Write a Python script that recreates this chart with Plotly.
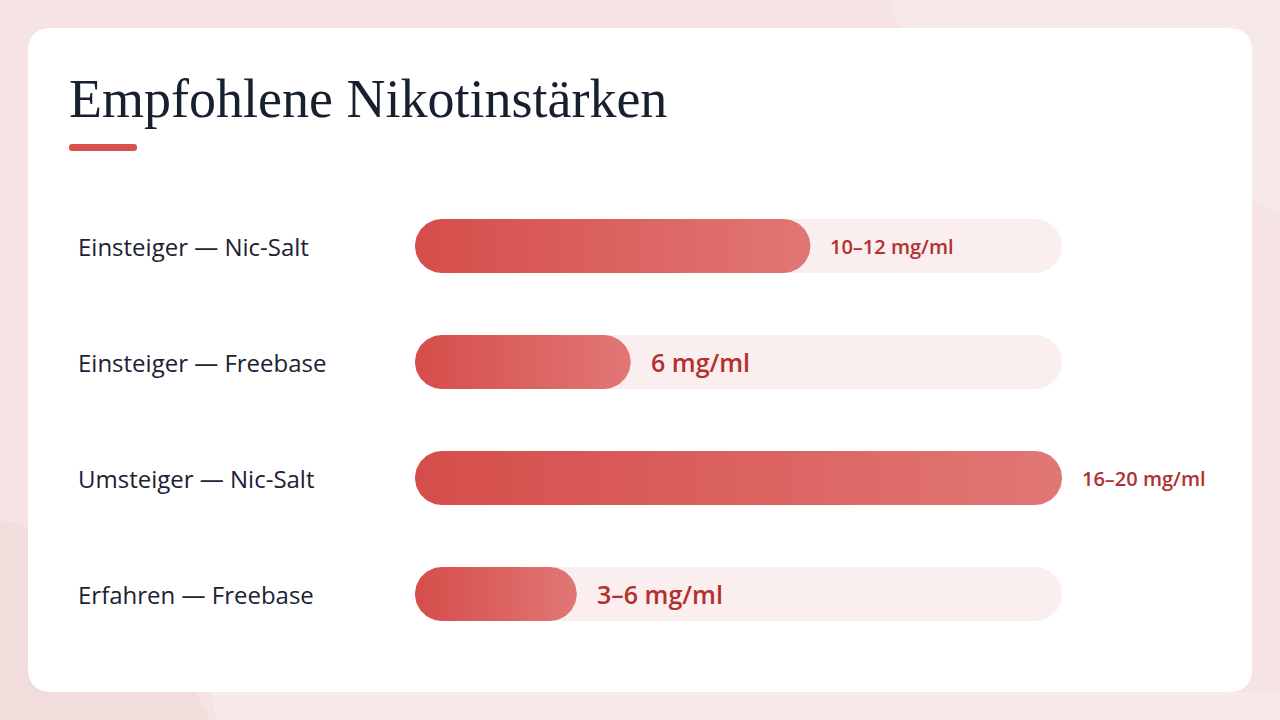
import numpy as np
import plotly.graph_objects as go

# ---- data ----
categories = ["Einsteiger — Nic-Salt", "Einsteiger — Freebase", "Umsteiger — Nic-Salt", "Erfahren — Freebase"]
values = [11, 6, 18, 4.5]
value_labels = ["10–12 mg/ml", "6 mg/ml", "16–20 mg/ml", "3–6 mg/ml"]
value_label_sizes = [20, 25, 20, 25]
max_value = 18
title_text = "Empfohlene Nikotinstärken"

W, H = 1280, 720
X0_PX, X1_PX = 415, 1062
ROW0_PX, ROW_STEP_PX = 246, 116
HALF_H_PX = 27

# axis geometry
x_per_px = max_value / (X1_PX - X0_PX)
y_per_px = 1.0 / ROW_STEP_PX
y_top = -ROW0_PX * y_per_px
y_bot = y_top + H * y_per_px
rx = HALF_H_PX * x_per_px
ry = HALF_H_PX * y_per_px


def capsule(x_end, yc, n=40):
    t1 = np.linspace(np.pi / 2, 3 * np.pi / 2, n)
    t2 = np.linspace(-np.pi / 2, np.pi / 2, n)
    lx = rx + rx * np.cos(t1)
    ly = yc - ry * np.sin(t1)
    rxs = (x_end - rx) + rx * np.cos(t2)
    rys = yc - ry * np.sin(t2)
    xs = np.concatenate([lx, rxs, lx[:1]])
    ys = np.concatenate([ly, rys, ly[:1]])
    return xs, ys


fig = go.Figure()
for i, (cat, v) in enumerate(zip(categories, values)):
    tx, ty = capsule(max_value, i)
    fig.add_trace(go.Scatter(x=tx, y=ty, mode="lines", fill="toself",
                             fillcolor="#faeeee", line=dict(width=0, color="#faeeee"),
                             hoverinfo="skip", showlegend=False))
    bx, by = capsule(v, i)
    fig.add_trace(go.Scatter(x=bx, y=by, mode="lines", fill="toself",
                             fillgradient=dict(type="horizontal",
                                               colorscale=[[0, "#d54d4a"], [1, "#e17775"]]),
                             line=dict(width=0, color="rgba(0,0,0,0)"),
                             hoverinfo="skip", showlegend=False, name=cat))

LABEL_FONT = "'Open Sans', Lato, sans-serif"
annotations = []
for i, (cat, v, lab, sz) in enumerate(zip(categories, values, value_labels, value_label_sizes)):
    annotations.append(dict(x=76 / W, xref="paper", y=i, yref="y", text=cat, showarrow=False,
                            xanchor="left", yanchor="middle",
                            font=dict(family=LABEL_FONT, size=24, color="#1b2233", weight=500)))
    annotations.append(dict(x=v, xref="x", y=i, yref="y", text=lab, showarrow=False,
                            xanchor="left", yanchor="middle", xshift=18,
                            font=dict(family=LABEL_FONT, size=sz, color="#b3302f", weight=600)))

annotations.append(dict(x=67 / W, xref="paper", y=1 - 99 / H, yref="paper", text=title_text,
                        showarrow=False, xanchor="left", yanchor="middle",
                        font=dict(family="'Liberation Serif', 'DejaVu Serif', serif", size=54,
                                  color="#16202e")))


def px(x):
    return x / W


def py(y):
    return 1 - y / H


def rounded_rect(x0, y0, x1, y1, r):
    return (f"M {px(x0 + r)},{py(y0)} L {px(x1 - r)},{py(y0)} Q {px(x1)},{py(y0)} {px(x1)},{py(y0 + r)} "
            f"L {px(x1)},{py(y1 - r)} Q {px(x1)},{py(y1)} {px(x1 - r)},{py(y1)} "
            f"L {px(x0 + r)},{py(y1)} Q {px(x0)},{py(y1)} {px(x0)},{py(y1 - r)} "
            f"L {px(x0)},{py(y0 + r)} Q {px(x0)},{py(y0)} {px(x0 + r)},{py(y0)} Z")


shapes = [
    # decorative background blobs
    dict(type="path", xref="paper", yref="paper", layer="below",
         path=f"M {px(890)},{py(0)} L {px(1280)},{py(0)} L {px(1280)},{py(215)} Q {px(1100)},{py(120)} {px(900)},{py(28)} Z",
         fillcolor="#f8e9e9", line=dict(width=0)),
    dict(type="path", xref="paper", yref="paper", layer="below",
         path=f"M {px(0)},{py(520)} Q {px(120)},{py(540)} {px(210)},{py(720)} L {px(0)},{py(720)} Z",
         fillcolor="#f3dcdc", line=dict(width=0)),
    dict(type="path", xref="paper", yref="paper", layer="below",
         path=f"M {px(210)},{py(692)} L {px(1280)},{py(692)} L {px(1280)},{py(720)} L {px(218)},{py(720)} Z",
         fillcolor="#f8eaea", line=dict(width=0)),
    # card
    dict(type="path", xref="paper", yref="paper", layer="below",
         path=rounded_rect(28, 28, 1252, 692, 24), fillcolor="#ffffff", line=dict(width=0)),
    # title underline
    dict(type="path", xref="paper", yref="paper", layer="below",
         path=rounded_rect(69, 144, 137, 151, 3), fillcolor="#d9504d", line=dict(width=0)),
]

fig.update_layout(
    width=W, height=H,
    margin=dict(l=0, r=0, t=0, b=0),
    paper_bgcolor="#f6e4e4",
    plot_bgcolor="rgba(0,0,0,0)",
    xaxis=dict(domain=[X0_PX / W, X1_PX / W], range=[0, max_value], visible=False, fixedrange=True),
    yaxis=dict(domain=[0, 1], range=[y_bot, y_top], visible=False, fixedrange=True),
    shapes=shapes,
    annotations=annotations,
    showlegend=False,
)

fig.write_html("out.html", config={"displayModeBar": False},
               post_script="document.body.style.margin='0';document.body.style.overflow='hidden';")
